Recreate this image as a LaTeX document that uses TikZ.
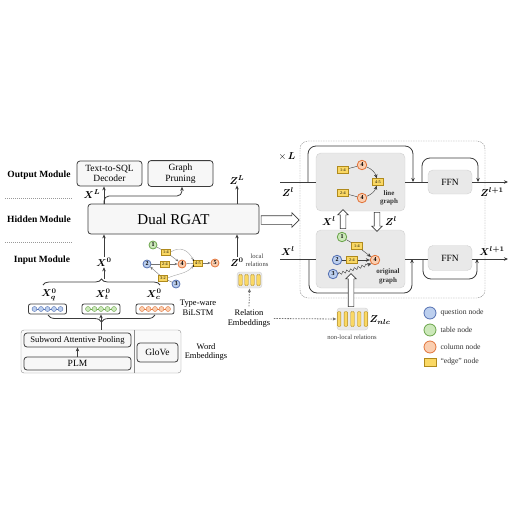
\documentclass[tikz,border=0pt]{standalone}
\usepackage{fontspec}
\setmainfont{Liberation Serif}
\usepackage{amsmath}
\usepackage{bm}
\usepackage{tikz}
\usetikzlibrary{shapes.geometric, shapes.arrows, arrows, arrows.meta, calc, positioning,
  decorations.pathreplacing, decorations.pathmorphing}
\definecolor{qfill}{RGB}{188,207,238}
\definecolor{qdraw}{RGB}{84,112,178}
\definecolor{tfill}{RGB}{204,232,186}
\definecolor{tdraw}{RGB}{106,164,74}
\definecolor{cfill}{RGB}{250,206,176}
\definecolor{cdraw}{RGB}{226,116,58}
\definecolor{efill}{RGB}{250,216,100}
\definecolor{edraw}{RGB}{176,138,28}
\definecolor{panel}{RGB}{233,233,233}
\definecolor{panelline}{RGB}{208,208,208}
\definecolor{darkline}{RGB}{60,60,60}
\tikzstyle{module} = [rectangle, rounded corners=3pt, draw=darkline, fill=black!3,
  thick, align=center, font=\fontsize{9.5}{10.5}\selectfont]
\tikzstyle{panelbox} = [rectangle, rounded corners=5pt, draw=panelline, fill=panel]
\tikzstyle{modlabel} = [font=\fontsize{9.5}{10}\selectfont\bfseries]
\tikzstyle{mlabel} = [font=\fontsize{10}{11}\selectfont, inner sep=1pt]
\tikzstyle{small} = [font=\fontsize{8.5}{9.5}\selectfont, align=center]
\tikzstyle{tiny} = [font=\fontsize{6.6}{7.6}\selectfont, align=center, text=black!75]
\tikzstyle{boldtiny} = [font=\fontsize{7}{8.5}\selectfont\bfseries, align=center, text=black!80]
\tikzstyle{qnode} = [circle, draw=qdraw, fill=qfill, thick, inner sep=0pt,
  minimum size=9.5pt, font=\fontsize{6}{6}\selectfont\bfseries]
\tikzstyle{tnode} = [qnode, draw=tdraw, fill=tfill]
\tikzstyle{cnode} = [qnode, draw=cdraw, fill=cfill]
\tikzstyle{enode} = [rectangle, draw=edraw, fill=efill, inner sep=0pt, minimum width=11pt,
  minimum height=7pt, font=\fontsize{4.2}{4.2}\selectfont]
\tikzstyle{ebar} = [rectangle, rounded corners=1pt, draw=edraw, fill=efill, inner sep=0pt,
  minimum width=3.5pt]
\tikzstyle{lstm} = [rectangle, rounded corners=2pt, draw=darkline, fill=white, thick,
  minimum width=38pt, minimum height=10pt]
\tikzstyle{arrow} = [thick, darkline, -{Stealth[length=4pt,width=3.5pt]}]
\tikzstyle{line} = [thick, darkline]
\tikzstyle{gline} = [black!55]
\tikzstyle{garrow} = [black!55, -{Stealth[length=3pt,width=2.5pt]}]
\tikzstyle{dotarrow} = [thick, black!55, dash pattern=on 1.5pt off 1.2pt,
  -{Latex[length=4pt,width=3.5pt]}]
\tikzstyle{hollow} = [single arrow, draw=darkline, fill=white, inner sep=0pt,
  line width=0.6pt]
\tikzstyle{vhollow} = [hollow, text width=5pt, text height=0pt, text depth=0pt,
  single arrow head extend=2.5pt]

\begin{document}
\begin{tikzpicture}[x=1pt, y=-1pt]
  \useasboundingbox (0,0) rectangle (512,512);

  % module names on the left
  \node[modlabel] (outlab) at (39,175) {Output Module};
  \node[modlabel] (hidlab) at (39,219) {Hidden Module};
  \node[modlabel] (inlab) at (42,260) {Input Module};
  \draw[black!40, dash pattern=on 1pt off 1pt] (5,198) -- (72,198);
  \draw[black!40, dash pattern=on 1pt off 1pt] (5,242) -- (72,242);

  % output and hidden modules
  \node[module, minimum width=65pt, minimum height=25pt] (dec) at (109.5,173.5)
    {Text-to-SQL\\Decoder};
  \node[module, minimum width=65pt, minimum height=25pt] (prune) at (180.5,173.5)
    {Graph\\Pruning};
  \node[module, minimum width=171pt, minimum height=30pt,
    font=\fontsize{15}{16}\selectfont] (rgat) at (173.5,219) {Dual RGAT};

  \coordinate (xLfoot) at (104,204);
  \coordinate (pbend) at (182,196);
  \draw[arrow] (xLfoot) -- (xLfoot |- dec.south);
  \draw[arrow, rounded corners=5pt] (xLfoot) |- (pbend) -- (prune.south -| pbend);
  \node[mlabel] (xL) at (92,194) {$\bm{X}^{\bm{L}}$};

  \node[mlabel] (zL) at (237,180) {$\bm{Z}^{\bm{L}}$};
  \draw[arrow] (rgat.north -| zL) -- (zL.south);
  \node[mlabel] (z0) at (237,262) {$\bm{Z}^{\bm{0}}$};
  \draw[arrow] (z0.north) -- (rgat.south -| z0);
  \node[mlabel] (x0) at (104,262) {$\bm{X}^{\bm{0}}$};
  \draw[arrow] (x0.north) -- (rgat.south -| x0);

  % type-aware BiLSTM
  \node[mlabel] (xq) at (49,294.5) {$\bm{X}_{\bm{q}}^{\bm{0}}$};
  \node[mlabel] (xt) at (103,294.5) {$\bm{X}_{\bm{t}}^{\bm{0}}$};
  \node[mlabel] (xc) at (154,294.5) {$\bm{X}_{\bm{c}}^{\bm{0}}$};
  \node[lstm] (lq) at (47.5,309) {};
  \node[lstm] (lt) at (101,309) {};
  \node[lstm] (lc) at (155,309) {};
  \foreach \b/\f/\d in {lq/qfill/qdraw, lt/tfill/tdraw, lc/cfill/cdraw} {
    \draw[\d] ($(\b.center)+(-13,0)$) -- ($(\b.center)+(13,0)$);
    \foreach \i in {0,...,4}
      \node[circle, draw=\d, fill=\f, inner sep=0pt, minimum size=5pt]
        at ($(\b.center)+(-13+6.5*\i,0)$) {};
  }
  \draw[line, decorate, decoration={brace, amplitude=6pt}] (43,285) -- (160,285);
  \draw[arrow] (104,279) -- (x0.south);
  \draw[line, decorate, decoration={brace, amplitude=7pt}] (155,315) -- (48,315);
  \node[small] (bilstm) at (198,308) {Type-ware\\BiLSTM};

  % word embeddings
  \node[rectangle, rounded corners=3pt, draw=black!45, fill=black!2,
    minimum width=160pt, minimum height=43pt] (wemb) at (101,351.5) {};
  \draw[black!45] (134,330) -- (134,373);
  \node[module, minimum width=107pt, minimum height=14pt, inner sep=0pt,
    font=\fontsize{8.6}{9}\selectfont] (swp) at (77.5,340) {Subword Attentive Pooling};
  \node[module, minimum width=107pt, minimum height=13pt, inner sep=0pt] (plm)
    at (77.5,363.5) {PLM};
  \node[module, minimum width=41pt, minimum height=19pt, inner sep=0pt] (glove)
    at (157.5,352.5) {GloVe};
  \draw[arrow] (plm.north) -- (swp.south);
  \draw[arrow] (wemb.north -| lt) -- (lt.south);
  \node[small] (wlab) at (206,352) {Word\\Embeddings};

  % small relation graph
  \node[tnode, minimum size=8pt] (a1) at (153,245) {1};
  \node[qnode, minimum size=8pt] (a2) at (147,264) {2};
  \node[qnode, minimum size=8pt] (a3) at (176,284) {3};
  \node[cnode, minimum size=8pt] (a4) at (182,264) {4};
  \node[cnode, minimum size=8pt] (a5) at (215,263) {5};
  \node[enode, minimum width=9pt, minimum height=5.5pt] (a14) at (166,252) {1-4};
  \node[enode, minimum width=9pt, minimum height=5.5pt] (a24) at (165,264) {2-4};
  \node[enode, minimum width=9pt, minimum height=5.5pt] (a45) at (198,263) {4-5};
  \node[enode, minimum width=9pt, minimum height=5.5pt] (a32) at (163,278) {3-2};
  \draw[gline] (a1) -- (a14);
  \draw[garrow] (a14) -- (a4);
  \draw[gline] (a2) -- (a24);
  \draw[garrow] (a24) -- (a4);
  \draw[gline] (a3) -- (a32);
  \draw[garrow] (a32) -- (a2);
  \draw[gline] (a4) -- (a45);
  \draw[garrow] (a45) -- (a5);
  \draw[garrow, black!35] (a14.east) .. controls (180,246) and (188,250) .. (a45.north west);
  \draw[garrow, black!35] (a32.east) .. controls (176,274) and (186,274) .. (a45.south west);
  \fill (a45.north west) circle (0.8pt);
  \fill (a45.south west) circle (0.8pt);

  % relation embeddings
  \node[tiny] (loclab) at (257,260) {local\\relations};
  \node[panelbox, rounded corners=3pt, minimum width=25pt, minimum height=16pt] (locblk)
    at (249.5,280) {};
  \foreach \i in {0,...,3}
    \node[ebar, minimum height=11pt] at ($(locblk.center)+(-9+6*\i,0)$) {};
  \node[small] (relemb) at (249,318.5) {Relation\\Embeddings};
  \draw[dotarrow] (relemb.north) -- (locblk.south);
  \node[panelbox, rounded corners=3pt, minimum width=31pt, minimum height=22pt] (nlblk)
    at (352.5,319) {};
  \foreach \i in {0,...,4}
    \node[ebar, minimum height=15pt] at ($(nlblk.center)+(-13.4+6.7*\i,0)$) {};
  \draw[dotarrow] (relemb.east) -- (nlblk.west);
  \node[mlabel] (znlc) at (380,320) {$\bm{Z}_{\bm{nlc}}$};
  \node[tiny] (nllab) at (352,337) {non-local relations};

  % hollow arrow into the stacked layer
  \node[hollow, minimum height=38pt, text height=4pt, text depth=4pt,
    single arrow head extend=3pt] (bigarr) at (278,220) {};

  % stacked layer
  \node[draw=black!50, dash pattern=on 1.5pt off 1pt, rounded corners=8pt,
    minimum width=185pt, minimum height=157pt] (layer) at (392.5,219.5) {};
  \node[mlabel] (times) at (287,156) {$\times\,\bm{L}$};
  \node[panelbox, minimum width=89pt, minimum height=58pt] (lg) at (360.5,182) {};
  \node[panelbox, minimum width=89pt, minimum height=58pt] (og) at (360.5,259) {};
  \node[panelbox, minimum width=44pt, minimum height=24pt,
    font=\fontsize{9.5}{10}\selectfont] (ffn1) at (450,182) {FFN};
  \node[panelbox, minimum width=44pt, minimum height=25pt,
    font=\fontsize{9.5}{10}\selectfont] (ffn2) at (450,258) {FFN};

  % line graph stream
  \coordinate (zin) at (280,182);
  \coordinate (zout) at (508,182);
  \draw[line] (zin) -- (lg.west);
  \draw[line] (lg.east) -- (ffn1.west);
  \draw[arrow] (ffn1.east) -- (zout);
  \draw[arrow, rounded corners=8pt] (308,182) |- (413,146) -- (413,182);
  \draw[arrow, rounded corners=8pt] (422,182) |- (478,158) -- (478,182);
  \node[mlabel] (zl) at (288,192) {$\bm{Z}^{\bm{l}}$};
  \node[mlabel] (zl1) at (492,192) {$\bm{Z}^{\bm{l+1}}$};

  % original graph stream
  \coordinate (xin) at (280,259);
  \coordinate (xout) at (508,259);
  \draw[line] (xin) -- (og.west);
  \draw[line] (og.east) -- (ffn2.west |- og.east);
  \draw[arrow] (ffn2.east |- og.east) -- (xout);
  \draw[arrow, rounded corners=8pt] (309,259) |- (412,293) -- (412,259);
  \draw[arrow, rounded corners=8pt] (423,259) |- (477,279) -- (477,259);
  \node[mlabel] (xl) at (288,251) {$\bm{X}^{\bm{l}}$};
  \node[mlabel] (xl1) at (492,251) {$\bm{X}^{\bm{l+1}}$};

  % exchange between the two graphs
  \node[vhollow, minimum height=19pt, shape border rotate=90] (uparr) at (343,220.5) {};
  \node[vhollow, minimum height=19pt, shape border rotate=270] (dnarr) at (377,220.5) {};
  \node[mlabel] (xlmid) at (329,221) {$\bm{X}^{\bm{l}}$};
  \node[mlabel] (zlmid) at (391,221) {$\bm{Z}^{\bm{l}}$};
  \node[vhollow, minimum height=33pt, shape border rotate=90] (nlarr) at (351,291.5) {};

  % line graph content
  \node[enode] (b14) at (343,170) {1-4};
  \node[cnode] (b4a) at (362,165) {4};
  \node[enode] (b45) at (378,182) {4-5};
  \node[enode] (b24) at (343,193) {2-4};
  \node[cnode] (b4b) at (362,198) {4};
  \draw[line, thin] (b14) -- (b4a);
  \draw[line, thin] (b24) -- (b4b);
  \draw[arrow, thin] (b4a) to[bend left=25] (b45);
  \draw[arrow, thin] (b4b) to[bend right=25] (b45);
  \node[boldtiny] (lglab) at (389,198) {line\\graph};

  % original graph content
  \node[tnode] (c1) at (342,237) {1};
  \node[enode] (c14) at (357,246) {1-4};
  \node[qnode] (c2) at (337,260) {2};
  \node[enode] (c24) at (352,260) {2-4};
  \node[cnode] (c4) at (375,260) {4};
  \node[qnode] (c3) at (333,274) {3};
  \draw[line, thin] (c1) -- (c14);
  \draw[arrow, thin] (c14) -- (c4);
  \draw[line, thin] (c2) -- (c24);
  \draw[arrow, thin] (c24) -- (c4);
  \draw[arrow, thin, decorate, decoration={snake, amplitude=1.3pt, segment length=4pt,
    post length=3pt}] (c3.east) -- (c4.south west);
  \node[boldtiny] (oglab) at (388,276.5) {original\\graph};

  % legend
  \node[qnode, minimum size=12pt] (legq) at (430,313) {};
  \node[tnode, minimum size=12pt] (legt) at (430,330) {};
  \node[cnode, minimum size=12pt] (legc) at (430,347) {};
  \node[enode, minimum width=12pt, minimum height=8pt] (lege) at (430,362) {};
  \node[font=\fontsize{7.7}{8}\selectfont, anchor=west, text=black!80] at (437,313) {question node};
  \node[font=\fontsize{7.7}{8}\selectfont, anchor=west, text=black!80] at (437,330) {table node};
  \node[font=\fontsize{7.7}{8}\selectfont, anchor=west, text=black!80] at (437,347) {column node};
  \node[font=\fontsize{7.7}{8}\selectfont, anchor=west, text=black!80] at (437,362) {``edge'' node};
\end{tikzpicture}
\end{document}
